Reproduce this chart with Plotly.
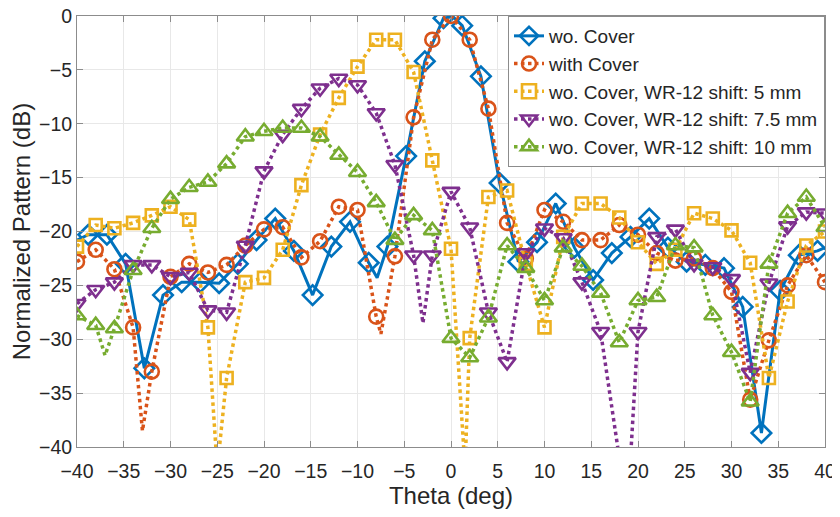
import plotly.graph_objects as go

# ---------------- data ----------------
theta_even = list(range(-40, 41, 2))                 # marker angles (deg)
theta_blue = [t - 0.8 for t in range(-38, 41, 2)]    # blue markers are offset

wo_cover = [-20.3, -20.3, -23.0, -32.7, -25.9, -24.7, -24.7, -24.8, -23.0, -20.8,
            -18.8, -21.8, -25.9, -21.4, -19.1, -22.9, -21.4, -13.0, -4.2, -0.2,
            -0.9, -5.6, -15.5, -22.8, -21.0, -17.4, -21.5, -24.5, -22.0, -20.5,
            -18.8, -21.5, -22.8, -23.1, -23.4, -27.0, -38.7, -25.5, -22.2, -21.8]
wo_cover_xtra_t = [-40, -7.9, 0.2, 40]
wo_cover_xtra = [-20.8, -24.3, -0.05, -21.5]

with_cover = [-22.8, -21.7, -23.5, -28.9, -33.0, -24.2, -23.0, -23.8, -23.1, -21.3,
              -19.8, -19.6, -22.4, -20.9, -17.7, -18.0, -27.9, -22.3, -9.4, -2.2,
              0.0, -2.2, -8.6, -19.2, -22.5, -18.0, -19.1, -20.8, -20.8, -19.4,
              -20.3, -22.0, -22.7, -22.5, -23.4, -25.6, -35.6, -30.1, -25.0, -22.2,
              -24.7]
with_cover_xtra_t = [-33, -7.5]
with_cover_xtra = [-38.5, -29.5]

shift_5 = [-21.4, -19.4, -19.7, -19.2, -18.5, -17.7, -18.9, -28.9, -33.6, -24.7,
           -24.3, -21.7, -15.7, -11.0, -7.6, -4.7, -2.2, -2.2, -5.2, -13.4,
           -21.6, -29.9, -16.8, -16.2, -23.0, -28.9, -20.5, -17.4, -17.4, -18.7,
           -21.0, -23.0, -21.7, -18.3, -18.8, -19.9, -22.9, -33.6, -26.5, -21.3,
           -20.0]
shift_5_xtra_t = [-25, 1.5]
shift_5_xtra = [-42.0, -42.0]

shift_75 = [-26.7, -25.4, -24.7, -23.1, -23.1, -24.2, -23.8, -27.3, -27.5, -21.3,
            -14.4, -11.0, -8.6, -6.7, -5.8, -6.4, -9.0, -13.8, -22.2, -22.2,
            -16.3, -19.6, -27.5, -32.1, -22.0, -19.7, -20.6, -24.7, -29.3, -41.0,
            -29.3, -20.5, -19.8, -23.0, -23.3, -24.4, -33.1, -24.8, -19.5, -18.2,
            -18.3]
shift_75_xtra_t = [-3, 19]
shift_75_xtra = [-28.5, -44.0]

shift_10 = [-27.8, -28.7, -29.0, -23.6, -19.7, -17.0, -15.9, -15.4, -13.7, -11.2,
            -10.7, -10.4, -10.4, -11.2, -12.9, -14.5, -17.3, -20.8, -18.5, -19.9,
            -29.9, -31.7, -28.0, -21.3, -23.4, -26.4, -21.5, -23.2, -25.7, -30.3,
            -26.4, -26.1, -21.3, -21.5, -27.8, -31.2, -35.8, -23.0, -18.3, -16.8,
            -19.6]
shift_10_xtra_t = [-37]
shift_10_xtra = [-31.5]

names = ["wo. Cover", "with Cover", "wo. Cover, WR-12 shift: 5 mm",
         "wo. Cover, WR-12 shift: 7.5 mm", "wo. Cover, WR-12 shift: 10 mm"]

# ---------------- styling ----------------
colors = ["#0072BD", "#D95319", "#EDB120", "#7E2F8E", "#77AC30"]
symbols = ["diamond-open", "circle-open", "square-open",
           "triangle-down-open", "triangle-up-open"]
sizes = [15, 14, 12, 15, 15]
dashes = ["solid", "dot", "dot", "dot", "dot"]
widths = [3, 3.5, 3.5, 3.5, 3.5]

series = [
    (theta_blue, wo_cover, wo_cover_xtra_t, wo_cover_xtra),
    (theta_even, with_cover, with_cover_xtra_t, with_cover_xtra),
    (theta_even, shift_5, shift_5_xtra_t, shift_5_xtra),
    (theta_even, shift_75, shift_75_xtra_t, shift_75_xtra),
    (theta_even, shift_10, shift_10_xtra_t, shift_10_xtra),
]


def merged(xm, ym, xe, ye):
    pts = sorted(zip(list(xm) + list(xe), list(ym) + list(ye)))
    return [p[0] for p in pts], [p[1] for p in pts]


fig = go.Figure()
for i, (xm, ym, xe, ye) in enumerate(series):
    lx, ly = merged(xm, ym, xe, ye)
    fig.add_trace(go.Scatter(
        x=lx, y=ly, mode="lines", showlegend=False, hoverinfo="skip",
        line=dict(color=colors[i], width=widths[i], dash=dashes[i])))
    fig.add_trace(go.Scatter(
        x=xm, y=ym, mode="markers", showlegend=False, name=names[i],
        marker=dict(symbol=symbols[i], size=sizes[i], color=colors[i],
                    line=dict(color=colors[i], width=2.6))))

# legend entries (line + marker sample)
for i in range(len(series)):
    fig.add_trace(go.Scatter(
        x=[None], y=[None], mode="lines+markers", name=names[i],
        line=dict(color=colors[i], width=widths[i], dash=dashes[i]),
        marker=dict(symbol=symbols[i], size=14, color=colors[i],
                    line=dict(color=colors[i], width=2.6))))

font_family = "Liberation Sans, Arial, Helvetica, sans-serif"
axis_common = dict(
    showline=True, mirror="ticks", linecolor="#8c8c8c", linewidth=1,
    ticks="inside", ticklen=6, tickcolor="#8c8c8c",
    showgrid=True, gridcolor="#e8e8e8", gridwidth=1, zeroline=False,
    automargin=False, ticklabeloverflow="allow",
    tickfont=dict(size=19.5, color="#262626", family=font_family),
)

# the page body adds an 8 px offset, so the figure is 8 px smaller each way
fig.update_layout(
    width=832, height=509,
    margin=dict(l=69, r=15, t=8, b=70, autoexpand=False),
    paper_bgcolor="white", plot_bgcolor="white",
    font=dict(family=font_family, color="#262626"),
    xaxis=dict(range=[-40, 40], dtick=5, tick0=0, ticklabelstandoff=7,
               title=dict(text="Theta (deg)", font=dict(size=24, color="#262626"),
                          standoff=4),
               **axis_common),
    yaxis=dict(range=[-40, 0], dtick=5, tick0=0,
               title=dict(text="Normalized Pattern (dB)",
                          font=dict(size=24, color="#262626"), standoff=4),
               **axis_common),
    legend=dict(x=1, xanchor="right", y=1, yanchor="top",
                bgcolor="white", bordercolor="#8c8c8c", borderwidth=1,
                font=dict(size=19, color="#262626", family=font_family),
                itemwidth=30, tracegroupgap=0),
)

fig.write_html("out.html")
